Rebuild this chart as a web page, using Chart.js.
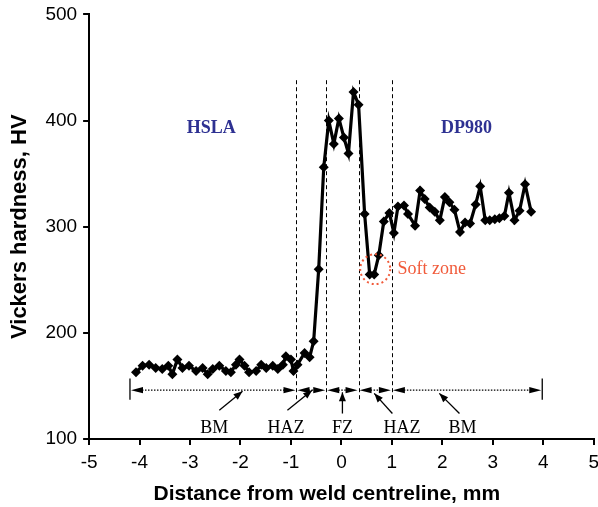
<!DOCTYPE html>
<html>
<head>
<meta charset="utf-8">
<script src="https://cdn.jsdelivr.net/npm/chart.js@4/dist/chart.umd.min.js"></script>
<style>
  html, body { margin: 0; padding: 0; background: #fff; overflow: hidden; }
  #wrap { width: 605px; height: 510px; margin-top: -3px; }
</style>
</head>
<body>
<div id="wrap"><canvas id="grafico"></canvas></div>
<script>
// datos
let distancia = [-4.07, -3.94, -3.81, -3.68, -3.55, -3.43, -3.35, -3.25, -3.15, -3.02,
    -2.88, -2.75, -2.65, -2.55, -2.42, -2.29, -2.19, -2.09, -2.02, -1.92,
    -1.83, -1.69, -1.59, -1.49, -1.36, -1.26, -1.16, -1.10, -1.00, -0.95,
    -0.87, -0.73, -0.63, -0.55, -0.45, -0.35, -0.25, -0.15, -0.05, 0.05,
    0.14, 0.24, 0.34, 0.46, 0.56, 0.65, 0.74, 0.84, 0.95, 1.04,
    1.12, 1.24, 1.32, 1.46, 1.56, 1.65, 1.75, 1.85, 1.95, 2.05,
    2.14, 2.24, 2.35, 2.45, 2.55, 2.66, 2.75, 2.85, 2.94, 3.04,
    3.13, 3.23, 3.32, 3.43, 3.53, 3.64, 3.76];
let dureza = [163, 169, 170, 167, 166, 169, 161, 175, 167, 169,
    164, 167, 161, 166, 169, 164, 163, 170, 175, 169,
    163, 164, 170, 167, 169, 166, 170, 178, 175, 164,
    170, 181, 177, 192, 260, 356, 400, 378, 402, 384,
    369, 427, 415, 312, 255, 255, 273, 305, 313, 294,
    319, 320, 312, 301, 334, 326, 318, 314, 306, 328,
    323, 316, 295, 304, 303, 321, 338, 306, 306, 307,
    308, 310, 332, 306, 315, 340, 314];

let limitesZona = [-0.89, -0.30, 0.34, 1.00];   // lineas discontinuas
let extremos = [-4.19, 3.98];
let zonas = ["BM", "HAZ", "FZ", "HAZ", "BM"];
let zonasX = [-2.52, -1.10, 0.02, 1.20, 2.40];
// flechas indicadoras: [x0, y0, x1, y1] en unidades de datos
let indicadores = [[-2.42, 127, -1.96, 145], [-1.07, 127, -0.58, 146], [0.02, 124, 0.02, 144],
    [1.01, 124, 0.65, 143], [2.34, 124, 1.94, 143]];

let ticksX = [-5, -4, -3, -2, -1, 0, 1, 2, 3, 4, 5];
let ticksY = [100, 200, 300, 400, 500];

function punta(ctx, x0, y0, x1, y1, largo, ancho) {
    let a = Math.atan2(y1 - y0, x1 - x0);
    ctx.beginPath();
    ctx.moveTo(x1, y1);
    ctx.lineTo(x1 - largo * Math.cos(a) + ancho * Math.sin(a), y1 - largo * Math.sin(a) - ancho * Math.cos(a));
    ctx.lineTo(x1 - largo * Math.cos(a) - ancho * Math.sin(a), y1 - largo * Math.sin(a) + ancho * Math.cos(a));
    ctx.closePath();
    ctx.fill();
}

// anotaciones
const anotaciones = {
    id: "anotaciones",
    beforeDatasetsDraw(chart) {
        let ctx = chart.ctx, sx = chart.scales.x, sy = chart.scales.y;
        ctx.save();
        ctx.strokeStyle = "#000";
        ctx.lineWidth = 1;
        ctx.setLineDash([4, 3]);
        limitesZona.forEach(d => {
            let px = Math.round(sx.getPixelForValue(d)) + 0.5;
            ctx.beginPath();
            ctx.moveTo(px, sy.getPixelForValue(438));
            ctx.lineTo(px, sy.getPixelForValue(136));
            ctx.stroke();
        });
        ctx.restore();
    },
    afterDatasetsDraw(chart) {
        let ctx = chart.ctx, sx = chart.scales.x, sy = chart.scales.y;
        ctx.save();
        let yL = sy.getPixelForValue(146);
        let cortes = [extremos[0], ...limitesZona, extremos[1]];

        // extremos
        ctx.strokeStyle = "#000";
        ctx.fillStyle = "#000";
        ctx.lineWidth = 1.3;
        extremos.forEach(d => {
            let px = sx.getPixelForValue(d);
            ctx.beginPath();
            ctx.moveTo(px, sy.getPixelForValue(157));
            ctx.lineTo(px, sy.getPixelForValue(137));
            ctx.stroke();
        });

        // flechas dobles
        for (let i = 0; i < cortes.length - 1; i++) {
            let a = sx.getPixelForValue(cortes[i]), b = sx.getPixelForValue(cortes[i + 1]);
            ctx.setLineDash([1.5, 1.5]);
            ctx.lineWidth = 1.2;
            ctx.beginPath();
            ctx.moveTo(a + 6, yL);
            ctx.lineTo(b - 6, yL);
            ctx.stroke();
            ctx.setLineDash([]);
            punta(ctx, b, yL, a + 1, yL, 12, 3.2);
            punta(ctx, a, yL, b - 1, yL, 12, 3.2);
        }

        // indicadores
        ctx.lineWidth = 1.3;
        indicadores.forEach(f => {
            let x0 = sx.getPixelForValue(f[0]), y0 = sy.getPixelForValue(f[1]);
            let x1 = sx.getPixelForValue(f[2]), y1 = sy.getPixelForValue(f[3]);
            ctx.beginPath();
            ctx.moveTo(x0, y0);
            ctx.lineTo(x1, y1);
            ctx.stroke();
            punta(ctx, x0, y0, x1, y1, 9, 3.5);
        });

        // textos de zona
        ctx.font = "18px 'Liberation Serif'";
        ctx.textAlign = "center";
        ctx.textBaseline = "middle";
        zonas.forEach((z, i) => {
            ctx.fillText(z, sx.getPixelForValue(zonasX[i]), sy.getPixelForValue(110));
        });

        // materiales
        ctx.fillStyle = "#2e3192";
        ctx.font = "bold 18px 'Liberation Serif'";
        ctx.fillText("HSLA", sx.getPixelForValue(-2.58), sy.getPixelForValue(393));
        ctx.fillText("DP980", sx.getPixelForValue(2.48), sy.getPixelForValue(393));

        // zona blanda
        ctx.strokeStyle = "#f15a3a";
        ctx.fillStyle = "#f15a3a";
        ctx.lineWidth = 2;
        ctx.setLineDash([2, 3]);
        ctx.beginPath();
        ctx.arc(sx.getPixelForValue(0.67), sy.getPixelForValue(260), 15, 0, Math.PI * 2);
        ctx.stroke();
        ctx.setLineDash([]);
        ctx.font = "18px 'Liberation Serif'";
        ctx.textAlign = "left";
        ctx.fillText("Soft zone", sx.getPixelForValue(1.11), sy.getPixelForValue(260));
        ctx.restore();
    }
};

new Chart(document.getElementById("grafico"), {
    type: "line",
    data: {
        datasets: [{
            data: distancia.map((d, i) => ({ x: d, y: dureza[i] })),
            borderColor: "#000",
            backgroundColor: "#000",
            borderWidth: 3.2,
            pointStyle: "rectRot",
            pointRadius: 5,
            pointBorderWidth: 0,
            tension: 0
        }]
    },
    options: {
        responsive: true,
        maintainAspectRatio: false,
        animation: false,
        layout: { padding: 0 },
        plugins: { legend: { display: false }, tooltip: { enabled: false } },
        scales: {
            x: {
                type: "linear",
                min: -5, max: 5,
                afterBuildTicks: s => { s.ticks = ticksX.map(v => ({ value: v })); },
                ticks: { color: "#000", font: { family: "'Liberation Sans'", size: 19 }, padding: 6, maxRotation: 0 },
                grid: { drawOnChartArea: false, drawTicks: true, tickLength: 6, color: "#000", lineWidth: 2 },
                border: { color: "#000", width: 2 },
                title: {
                    display: true,
                    text: "Distance from weld centreline, mm\u00a0\u00a0\u00a0\u00a0\u00a0",
                    color: "#000",
                    font: { family: "'Liberation Sans'", size: 21, weight: "bold" },
                    padding: { top: 2, bottom: 0 }
                }
            },
            y: {
                min: 100, max: 500,
                afterBuildTicks: s => { s.ticks = ticksY.map(v => ({ value: v })); },
                ticks: { color: "#000", font: { family: "'Liberation Sans'", size: 19 }, padding: 6 },
                grid: { drawOnChartArea: false, drawTicks: true, tickLength: 6, color: "#000", lineWidth: 2 },
                border: { color: "#000", width: 2 },
                title: {
                    display: true,
                    text: "Vickers hardness, HV",
                    color: "#000",
                    font: { family: "'Liberation Sans'", size: 22, weight: "bold" },
                    padding: { top: 7, bottom: 6 }
                }
            }
        }
    },
    plugins: [anotaciones]
});
</script>
</body>
</html>
